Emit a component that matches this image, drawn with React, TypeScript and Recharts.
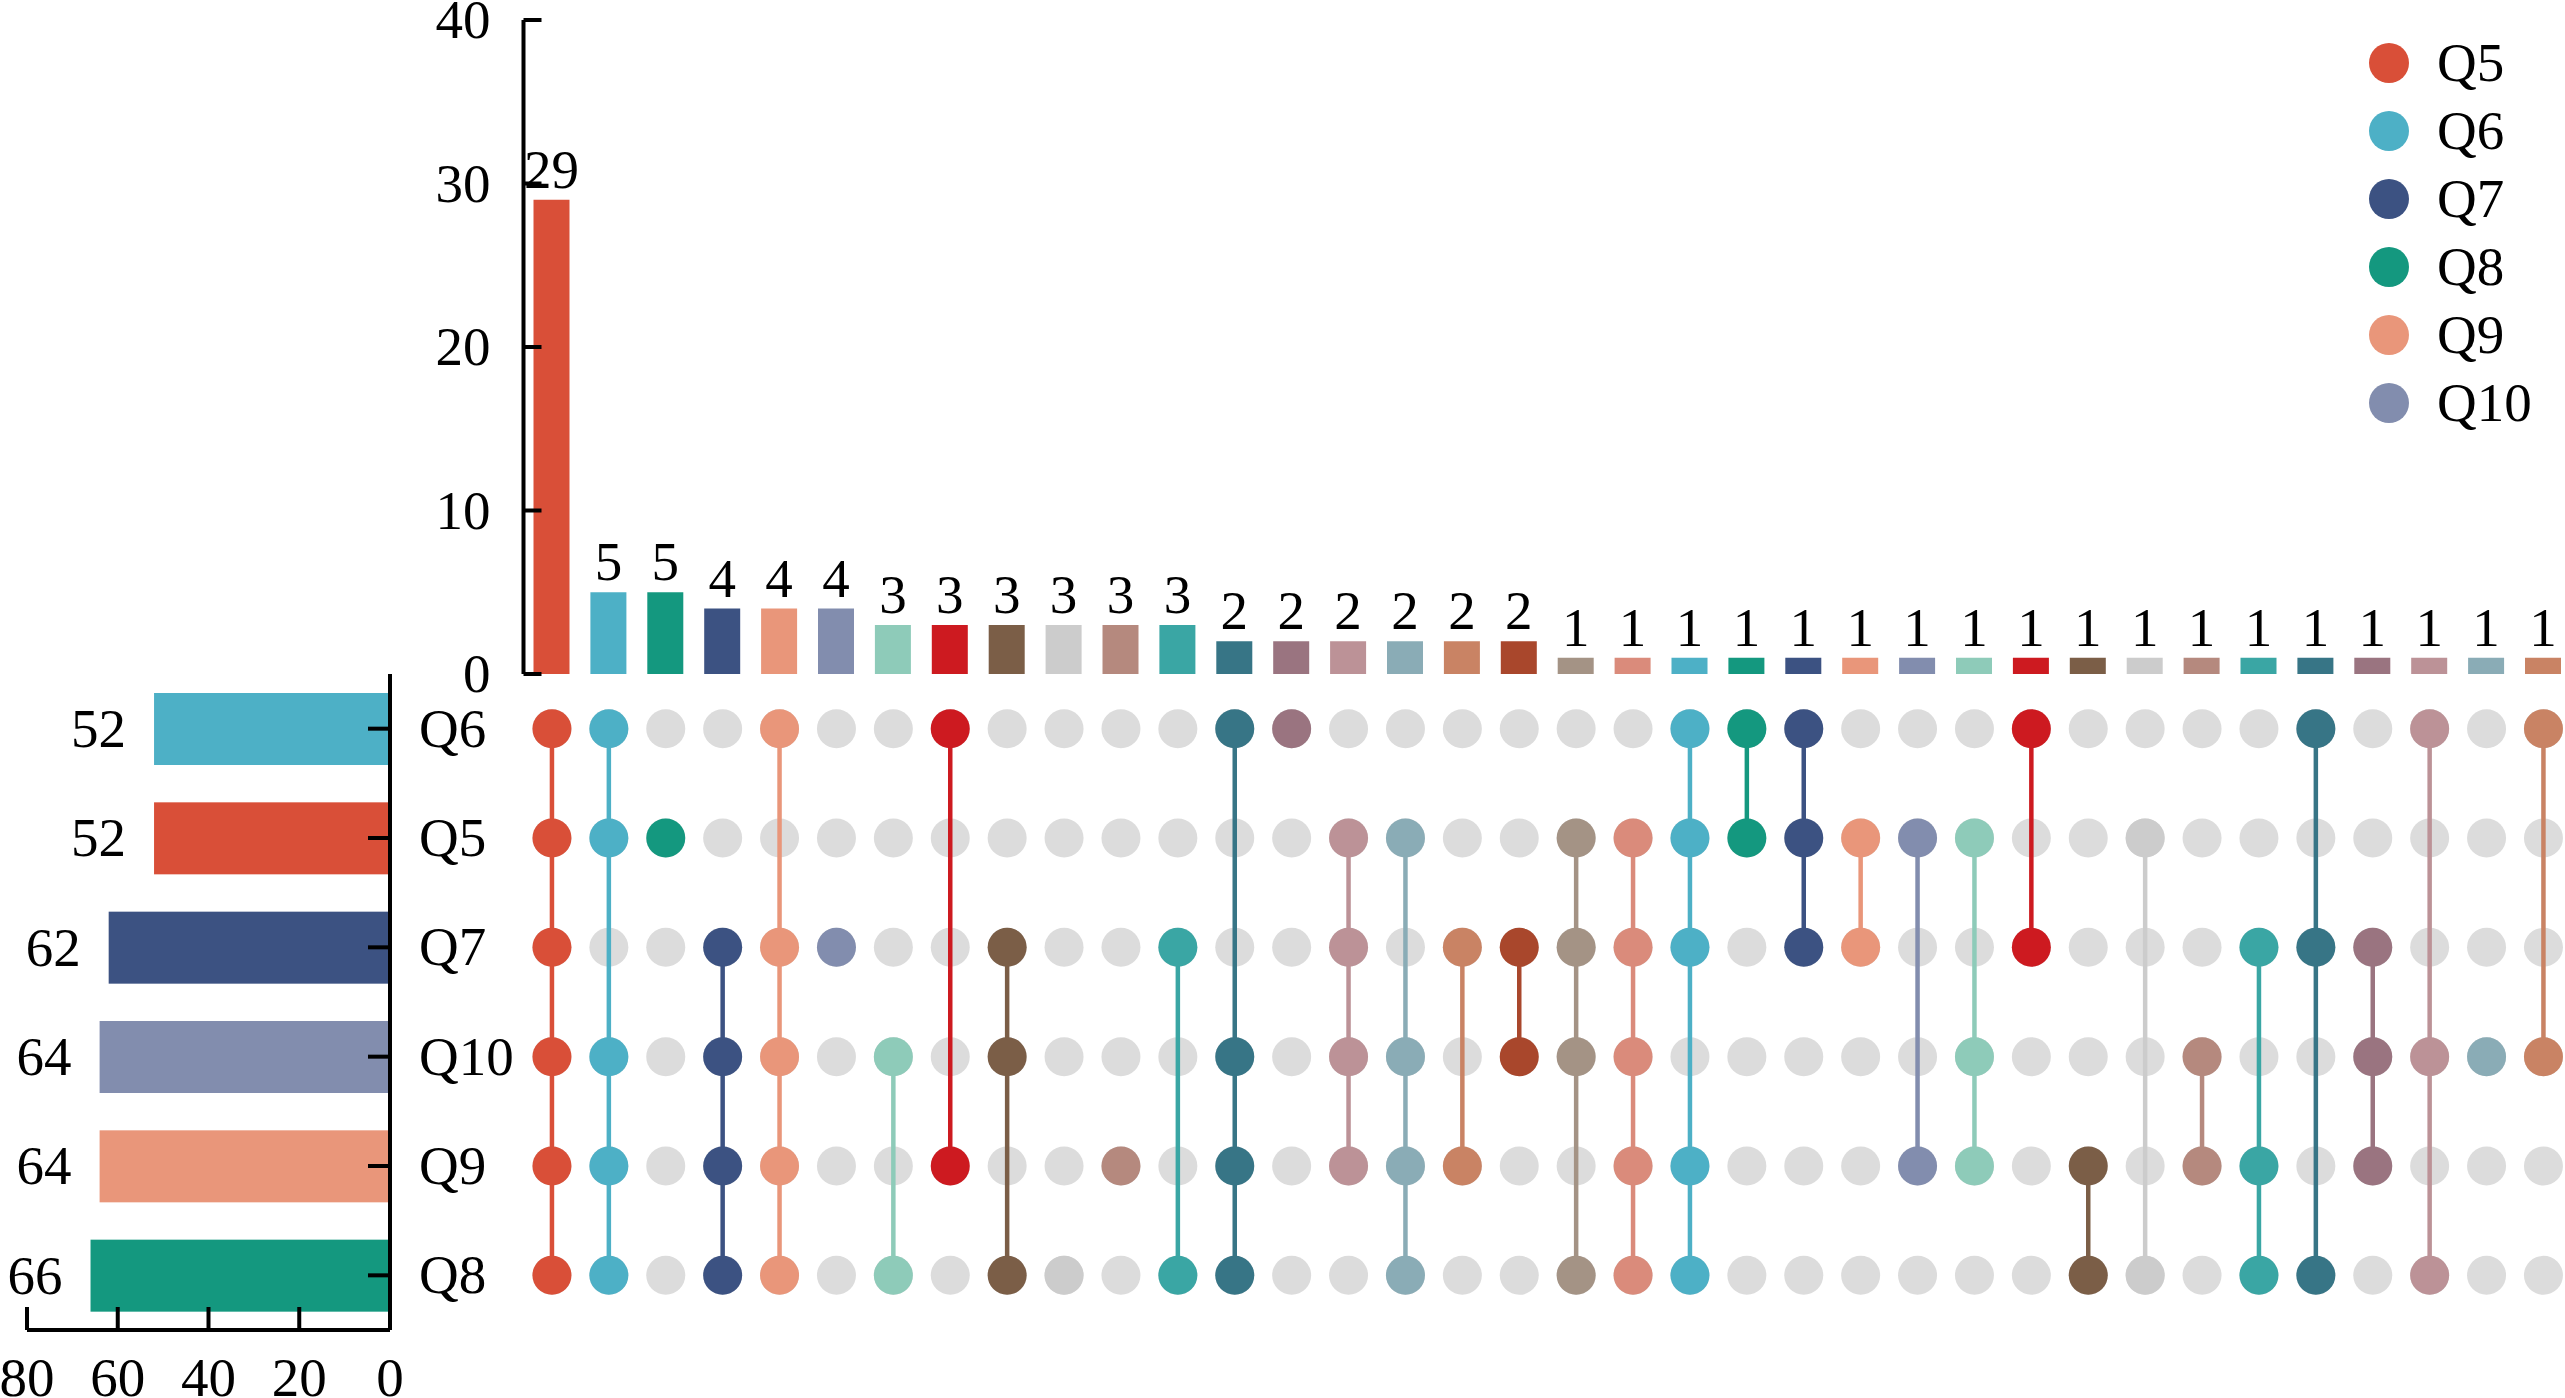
import { Bar, BarChart, Cell, LabelList, Scatter, ScatterChart, XAxis, YAxis } from 'recharts'

// sets, in matrix row order (top to bottom)
const SETS = ['Q6', 'Q5', 'Q7', 'Q10', 'Q9', 'Q8']
const SET_SIZES = [52, 52, 62, 64, 64, 66]
const SET_COLORS = ['#4DB0C6', '#D94F38', '#3C5282', '#828DAE', '#E9967A', '#14987F']

const LEGEND_SETS = ['Q5', 'Q6', 'Q7', 'Q8', 'Q9', 'Q10']
const LEGEND_COLORS = ['#D94F38', '#4DB0C6', '#3C5282', '#14987F', '#E9967A', '#828DAE']

const INTERSECTION_SIZES = [
  29, 5, 5, 4, 4, 4, 3, 3, 3, 3, 3, 3, 2, 2, 2, 2, 2, 2,
  1, 1, 1, 1, 1, 1, 1, 1, 1, 1, 1, 1, 1, 1, 1, 1, 1, 1,
]

const INTERSECTION_MEMBERS = [
  ['Q6', 'Q5', 'Q7', 'Q10', 'Q9', 'Q8'],
  ['Q6', 'Q5', 'Q10', 'Q9', 'Q8'],
  ['Q5'],
  ['Q7', 'Q10', 'Q9', 'Q8'],
  ['Q6', 'Q7', 'Q10', 'Q9', 'Q8'],
  ['Q7'],
  ['Q10', 'Q8'],
  ['Q6', 'Q9'],
  ['Q7', 'Q10', 'Q8'],
  ['Q8'],
  ['Q9'],
  ['Q7', 'Q8'],
  ['Q6', 'Q10', 'Q9', 'Q8'],
  ['Q6'],
  ['Q5', 'Q7', 'Q10', 'Q9'],
  ['Q5', 'Q10', 'Q9', 'Q8'],
  ['Q7', 'Q9'],
  ['Q7', 'Q10'],
  ['Q5', 'Q7', 'Q10', 'Q8'],
  ['Q5', 'Q7', 'Q10', 'Q9', 'Q8'],
  ['Q6', 'Q5', 'Q7', 'Q9', 'Q8'],
  ['Q6', 'Q5'],
  ['Q6', 'Q5', 'Q7'],
  ['Q5', 'Q7'],
  ['Q5', 'Q9'],
  ['Q5', 'Q10', 'Q9'],
  ['Q6', 'Q7'],
  ['Q9', 'Q8'],
  ['Q5', 'Q8'],
  ['Q10', 'Q9'],
  ['Q7', 'Q9', 'Q8'],
  ['Q6', 'Q7', 'Q8'],
  ['Q7', 'Q10', 'Q9'],
  ['Q6', 'Q10', 'Q8'],
  ['Q10'],
  ['Q6', 'Q10'],
]

const INTERSECTION_COLORS = [
  '#D94F38', '#4DB0C6', '#14987F', '#3C5282', '#E9967A', '#828DAE',
  '#8ECBB9', '#CD1A20', '#7B5E47', '#CCCCCC', '#B5897E', '#3AA6A4',
  '#377586', '#9A7480', '#BC9297', '#8AACB6', '#C98364', '#A9472C',
  '#A49385', '#DA8B7B', '#4DB0C6', '#14987F', '#3C5282', '#E9967A',
  '#828DAE', '#8ECBB9', '#CD1A20', '#7B5E47', '#CCCCCC', '#B5897E',
  '#3AA6A4', '#377586', '#9A7480', '#BC9297', '#8AACB6', '#C98364',
]

const TOP_TICKS = [0, 10, 20, 30, 40]
const SIDE_TICKS = [0, 20, 40, 60, 80]

const FONT = "'Liberation Serif', serif"
const FS = 55
const EMPTY_DOT = '#DCDCDC'

// layout
const CHART_W = 2600
const COL_LEFT = 523.5
const COL_RIGHT = COL_LEFT + 56.9 * INTERSECTION_SIZES.length
const ROW_TOP = 674
const ROW_BOTTOM = 1330

const columns = INTERSECTION_SIZES.map((size, i) => ({ id: i, size }))
const rows = SETS.map((set, i) => ({ set, size: SET_SIZES[i] }))
const emptyCells = INTERSECTION_SIZES.flatMap((_, x) => SETS.map((_, y) => ({ x, y })))
const filledCells = INTERSECTION_MEMBERS.map((members, x) =>
  members.map((m) => ({ x, y: SETS.indexOf(m) })).sort((a, b) => a.y - b.y),
)

const txt = { fontFamily: FONT, fontSize: FS, fill: '#000' }

function TopTick({ x, y, payload }: any) {
  return (
    <g>
      <line x1={x} x2={x + 18} y1={y} y2={y} stroke="#000" strokeWidth={4} />
      <text x={x - 33} y={y} dy={FS * 0.33} textAnchor="end" {...txt}>
        {payload.value}
      </text>
    </g>
  )
}

function SetTick({ x, y, payload }: any) {
  return (
    <g>
      <line x1={x - 22} x2={x} y1={y} y2={y} stroke="#000" strokeWidth={4} />
      <text x={x + 29} y={y} dy={FS * 0.33} textAnchor="start" {...txt}>
        {payload.value}
      </text>
    </g>
  )
}

function SizeTick({ x, y, payload }: any) {
  return (
    <g>
      <line x1={x} x2={x} y1={y - 23} y2={y} stroke="#000" strokeWidth={4} />
      <text x={x} y={y + 66} textAnchor="middle" {...txt}>
        {payload.value}
      </text>
    </g>
  )
}

function SideBar(p: any) {
  const left = Math.min(p.x, p.x + p.width)
  return <rect x={left} y={p.y} width={Math.abs(p.width)} height={p.height} fill={p.fill} />
}

function SideLabel(p: any) {
  const left = Math.min(p.x, p.x + p.width)
  return (
    <text x={left - 28} y={p.y + p.height / 2} dy={FS * 0.33} textAnchor="end" {...txt}>
      {p.value}
    </text>
  )
}

const abs = { position: 'absolute' as const, left: 0, top: 0 }

export default function App() {
  return (
    <div style={{ ...abs, width: 2565, height: 1398, overflow: 'hidden', background: '#fff' }}>
      {/* intersection sizes */}
      <div style={abs}>
        <BarChart
          width={CHART_W}
          height={700}
          data={columns}
          margin={{ top: 20, right: CHART_W - COL_RIGHT, bottom: 26, left: COL_LEFT - 100 }}
        >
          <Bar dataKey="size" barSize={36} isAnimationActive={false}>
            {columns.map((c) => (
              <Cell key={c.id} fill={INTERSECTION_COLORS[c.id]} />
            ))}
            <LabelList dataKey="size" position="top" offset={12} {...txt} />
          </Bar>
          <XAxis dataKey="id" hide />
          <YAxis
            width={100}
            type="number"
            domain={[0, 40]}
            ticks={TOP_TICKS}
            allowDataOverflow
            tickSize={0}
            tickMargin={0}
            tickLine={false}
            axisLine={{ stroke: '#000', strokeWidth: 4 }}
            tick={<TopTick />}
          />
        </BarChart>
      </div>

      {/* membership matrix */}
      <div style={abs}>
        <ScatterChart
          width={CHART_W}
          height={1398}
          margin={{ top: ROW_TOP, right: CHART_W - COL_RIGHT, bottom: 1398 - ROW_BOTTOM, left: COL_LEFT }}
        >
          <XAxis
            type="number"
            dataKey="x"
            domain={[-0.5, INTERSECTION_SIZES.length - 0.5]}
            allowDataOverflow
            hide
          />
          <YAxis
            type="number"
            dataKey="y"
            domain={[-0.5, SETS.length - 0.5]}
            allowDataOverflow
            reversed
            hide
          />
          <Scatter
            data={emptyCells}
            isAnimationActive={false}
            shape={(p: any) => <circle cx={p.cx} cy={p.cy} r={19.5} fill={EMPTY_DOT} />}
          />
          {filledCells.map((cells, i) => (
            <Scatter
              key={i}
              data={cells}
              isAnimationActive={false}
              line={{ stroke: INTERSECTION_COLORS[i], strokeWidth: 4.5 }}
              lineType="joint"
              shape={(p: any) => (
                <circle cx={p.cx} cy={p.cy} r={19.5} fill={INTERSECTION_COLORS[i]} />
              )}
            />
          ))}
        </ScatterChart>
      </div>

      {/* set sizes */}
      <div style={abs}>
        <BarChart
          layout="vertical"
          width={600}
          height={1398}
          data={rows}
          margin={{ top: ROW_TOP, right: 60, bottom: 8, left: 27 }}
        >
          <Bar dataKey="size" barSize={72} isAnimationActive={false} shape={<SideBar />}>
            {rows.map((r, i) => (
              <Cell key={r.set} fill={SET_COLORS[i]} />
            ))}
            <LabelList dataKey="size" content={<SideLabel />} />
          </Bar>
          <XAxis
            type="number"
            domain={[0, 80]}
            ticks={SIDE_TICKS}
            allowDataOverflow
            reversed
            height={60}
            tickSize={0}
            tickMargin={0}
            tickLine={false}
            axisLine={{ stroke: '#000', strokeWidth: 4 }}
            tick={<SizeTick />}
          />
          <YAxis
            type="category"
            dataKey="set"
            orientation="right"
            width={150}
            tickSize={0}
            tickMargin={0}
            tickLine={false}
            axisLine={{ stroke: '#000', strokeWidth: 4 }}
            tick={<SetTick />}
          />
        </BarChart>
      </div>

      {/* legend */}
      <svg style={{ position: 'absolute', left: 2340, top: 20 }} width={225} height={420}>
        {LEGEND_SETS.map((s, i) => (
          <g key={s}>
            <circle cx={49} cy={43 + 68 * i} r={20} fill={LEGEND_COLORS[i]} />
            <text x={97} y={43 + 68 * i} dy={FS * 0.33} {...txt}>
              {s}
            </text>
          </g>
        ))}
      </svg>
    </div>
  )
}
